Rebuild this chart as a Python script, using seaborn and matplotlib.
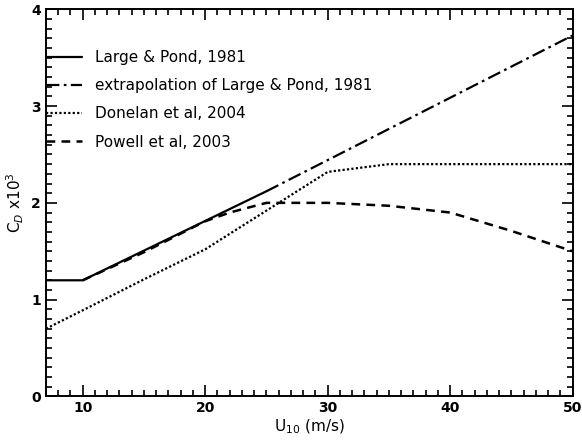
import matplotlib
matplotlib.use('Agg')
import matplotlib.pyplot as plt
import seaborn as sns
from matplotlib.ticker import MultipleLocator

# Large & Pond (1981), measured range
lp_u = [7, 10, 25]
lp_cd = [1.2, 1.2, 2.12]

# extrapolation of Large & Pond beyond 25 m/s
ext_u = [25, 50]
ext_cd = [2.12, 3.73]

# Donelan et al (2004)
don_u = [7, 10, 15, 20, 25, 30, 35, 50]
don_cd = [0.7, 0.89, 1.21, 1.52, 1.92, 2.32, 2.4, 2.4]

# Powell et al (2003)
pow_u = [10, 15, 20, 22, 25, 30, 35, 40, 45, 50]
pow_cd = [1.2, 1.49, 1.81, 1.9, 2.0, 2.0, 1.97, 1.9, 1.71, 1.5]

sns.set_style('ticks')
plt.rcParams['font.family'] = ['DejaVu Sans']
plt.rcParams['text.color'] = 'black'
plt.rcParams['axes.labelcolor'] = 'black'
plt.rcParams['xtick.color'] = 'black'
plt.rcParams['ytick.color'] = 'black'

fig = plt.figure(figsize=(5.82, 4.41), dpi=100)
ax = fig.add_axes([0.079, 0.101, 0.905, 0.878])

sns.lineplot(x=lp_u, y=lp_cd, ax=ax, color='black', linewidth=1.6,
             linestyle='-', label='Large & Pond, 1981')
sns.lineplot(x=ext_u, y=ext_cd, ax=ax, color='black', linewidth=1.6,
             linestyle=(0, (6, 2, 1.2, 2)), label='extrapolation of Large & Pond, 1981')
sns.lineplot(x=don_u, y=don_cd, ax=ax, color='black', linewidth=1.6,
             linestyle=(0, (1, 1)), label='Donelan et al, 2004')
sns.lineplot(x=pow_u, y=pow_cd, ax=ax, color='black', linewidth=1.8,
             linestyle=(0, (3.5, 2.5)), label='Powell et al, 2003')

ax.set_xlim(7, 50)
ax.set_ylim(0, 4)
ax.xaxis.set_major_locator(MultipleLocator(10))
ax.xaxis.set_minor_locator(MultipleLocator(1))
ax.yaxis.set_major_locator(MultipleLocator(1))
ax.yaxis.set_minor_locator(MultipleLocator(0.1))
ax.tick_params(which='both', direction='in', top=True, right=True,
               labelsize=10, width=1.2)
ax.tick_params(which='major', length=8)
ax.tick_params(which='minor', length=4)
for lab in ax.get_xticklabels() + ax.get_yticklabels():
    lab.set_fontweight('bold')
for s in ax.spines.values():
    s.set_linewidth(1.4)
    s.set_color('black')

ax.set_xlabel('U$_{10}$ (m/s)', fontsize=11, labelpad=2)
ax.set_ylabel('C$_D$ x10$^3$', fontsize=11, labelpad=4)

leg = ax.legend(loc='upper left', bbox_to_anchor=(-0.012, 0.91), frameon=False,
                fontsize=11, handlelength=2.4, handletextpad=0.8,
                labelspacing=0.86, borderaxespad=0)
for t in leg.get_texts():
    t.set_color('black')

fig.savefig('out.png', dpi=100)
